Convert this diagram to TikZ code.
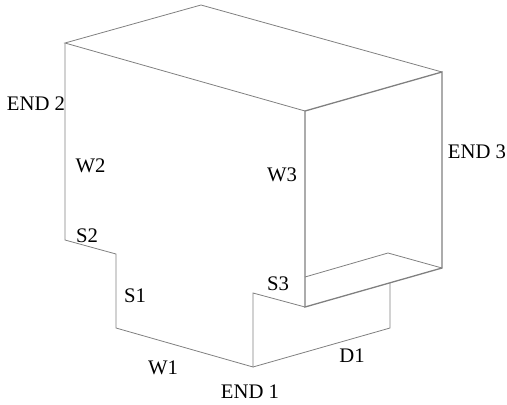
\documentclass[tikz,border=0pt]{standalone}
\usepackage{fontspec}
\setmainfont{Liberation Serif}
\tikzset{
  thinedge/.style={draw=black!50,line width=0.8pt,line join=miter},
  heavyedge/.style={draw=black!50,line width=1.3pt,line join=miter},
  lbl/.style={inner sep=0pt,font=\fontsize{20.7}{20.7}\selectfont,text=black}
}
\begin{document}
\begin{tikzpicture}[x=1pt,y=-1pt]
\useasboundingbox (0,0) rectangle (507,405);
\coordinate (a) at (65,43);
\coordinate (b) at (201,5);
\coordinate (c) at (442,72);
\coordinate (d) at (305,111);
\coordinate (e) at (305,307);
\coordinate (f) at (442,268);
\coordinate (g) at (305,277);
\coordinate (h) at (388,253);
\coordinate (i) at (390,283);
\coordinate (j) at (390,328);
\coordinate (k) at (253,367);
\coordinate (l) at (253,293);
\coordinate (m) at (65,240);
\coordinate (n) at (116,254);
\coordinate (o) at (116,328);
\draw[thinedge] (d) -- (a) -- (b) -- (c);
\draw[thinedge] (a) -- (m) -- (n) -- (o) -- (k) -- (l) -- (e);
\draw[thinedge] (k) -- (j) -- (i);
\draw[thinedge] (g) -- (h) -- (f);
\draw[heavyedge] (c) -- (d) -- (e) -- (f) -- cycle;
\node[lbl] (end2) at (36,104) {END 2};
\node[lbl] (w2) at (90.5,166) {W2};
\node[lbl] (w3) at (282,175) {W3};
\node[lbl] (s2) at (87,236) {S2};
\node[lbl] (s1) at (135,296) {S1};
\node[lbl] (s3) at (278,284) {S3};
\node[lbl] (w1) at (163,368) {W1};
\node[lbl] (end1) at (250,392) {END 1};
\node[lbl] (d1) at (352,356) {D1};
\node[lbl] (end3) at (477,151.5) {END 3};
\end{tikzpicture}
\end{document}
